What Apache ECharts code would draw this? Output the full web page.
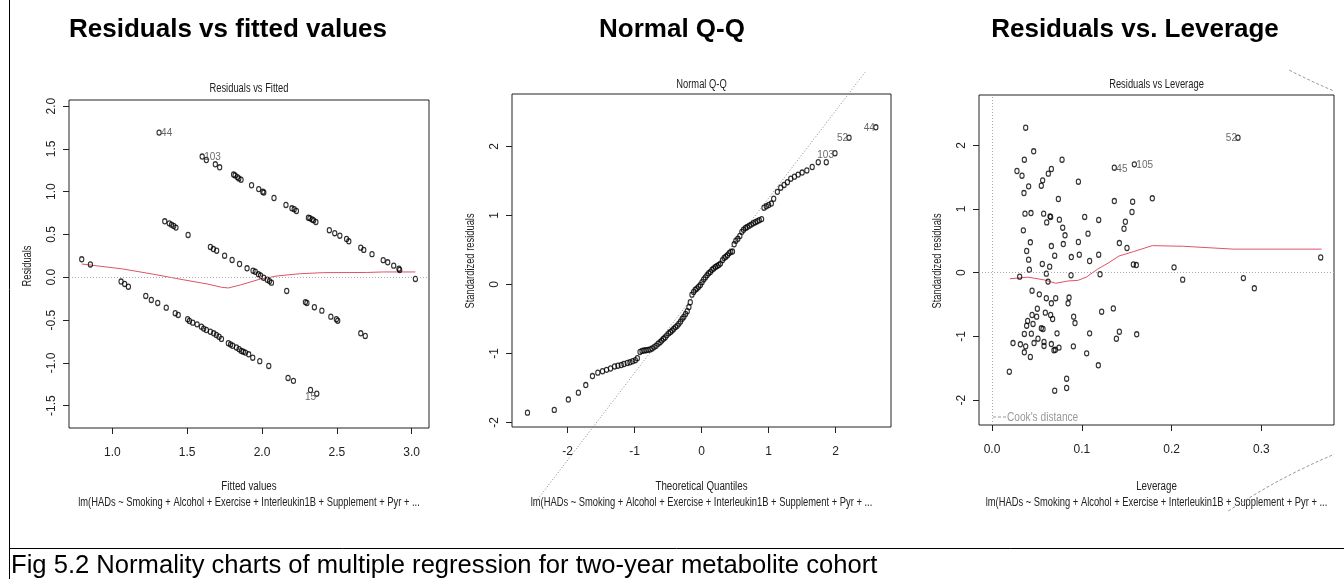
<!DOCTYPE html>
<html><head><meta charset="utf-8">
<script src="https://cdn.jsdelivr.net/npm/echarts@6/dist/echarts.min.js"></script>
<style>html,body{margin:0;padding:0;background:#fff}#c{width:1344px;height:579px}</style>
</head><body><div id="c"></div>
<script>
// ---------- Panel 1: Residuals vs Fitted ----------
const fittedValues = [0.795,0.853,1.312,1.60,1.628,1.688,1.717,1.81,1.82,1.835,1.845,1.86,1.93,1.978,2.005,2.012,2.08,2.16,2.20,2.215,2.23,2.31,2.32,2.335,2.345,2.36,2.45,2.486,2.52,2.565,2.58,2.66,2.68,2.735,2.81,2.84,2.88,2.915,2.92,3.025,
 1.35,1.38,1.395,1.41,1.425,1.506,1.655,1.675,1.697,1.75,1.80,1.85,1.90,1.94,1.955,1.976,1.99,2.011,2.035,2.05,2.063,2.165,2.29,2.30,2.35,2.40,2.46,2.497,2.506,2.66,2.69,
 1.058,1.082,1.107,1.223,1.26,1.303,1.36,1.42,1.44,1.503,1.515,1.537,1.566,1.595,1.61,1.628,1.655,1.677,1.695,1.713,1.729,1.775,1.79,1.804,1.829,1.847,1.862,1.875,1.889,1.911,1.938,1.985,2.045,2.174,2.21,2.324,2.366];
const residuals = [0.21,0.15,1.69,1.41,1.37,1.32,1.285,1.20,1.19,1.17,1.155,1.14,1.075,1.03,1.00,0.99,0.926,0.845,0.806,0.795,0.775,0.696,0.69,0.675,0.665,0.646,0.55,0.515,0.486,0.447,0.42,0.346,0.32,0.27,0.20,0.175,0.136,0.10,0.085,-0.02,
 0.654,0.63,0.615,0.60,0.58,0.494,0.354,0.33,0.31,0.252,0.202,0.155,0.105,0.077,0.065,0.035,0.02,-0.005,-0.03,-0.045,-0.063,-0.16,-0.29,-0.30,-0.35,-0.39,-0.46,-0.49,-0.507,-0.655,-0.686,
 -0.05,-0.078,-0.11,-0.218,-0.265,-0.30,-0.355,-0.42,-0.44,-0.49,-0.51,-0.53,-0.55,-0.577,-0.60,-0.616,-0.636,-0.655,-0.674,-0.694,-0.72,-0.77,-0.785,-0.80,-0.82,-0.84,-0.86,-0.87,-0.88,-0.90,-0.94,-0.98,-1.036,-1.176,-1.21,-1.317,-1.36];
const fittedSmoothX = [0.795,1.07,1.276,1.477,1.633,1.73,1.775,1.855,1.99,2.10,2.257,2.41,2.70,2.81,3.025];
const fittedSmoothY = [0.155,0.097,0.035,-0.03,-0.078,-0.117,-0.125,-0.09,-0.02,0.015,0.042,0.054,0.056,0.062,0.062];
const fittedLabelX = [1.312,1.60,2.324];
const fittedLabelY = [1.69,1.41,-1.317];
const fittedLabelText = ['44','103','15'];
const fittedXTicks = [1.0,1.5,2.0,2.5,3.0];
const fittedYTicks = [-1.5,-1.0,-0.5,0.0,0.5,1.0,1.5,2.0];

// ---------- Panel 2: Normal Q-Q ----------
const theoreticalQ = [-2.60,-2.20,-1.99,-1.84,-1.73,-1.63,-1.55,-1.48,-1.42,-1.36,-1.30,-1.25,-1.20,-1.16,-1.11,-1.07,-1.03,-0.99,-0.96,-0.92,-0.89,-0.86,-0.83,-0.80,-0.77,-0.74,-0.71,-0.68,-0.65,-0.62,-0.595,-0.57,-0.545,-0.52,-0.49,-0.465,-0.44,-0.415,-0.39,-0.365,-0.34,-0.315,-0.29,-0.265,-0.24,-0.215,-0.19,-0.17,-0.145,-0.12,-0.095,-0.07,-0.045,-0.02,0.005,0.03,0.055,0.08,0.105,0.13,0.155,0.18,0.205,0.23,0.255,0.28,0.31,0.335,0.36,0.385,0.41,0.435,0.46,0.485,0.51,0.54,0.57,0.60,0.625,0.655,0.68,0.71,0.74,0.77,0.80,0.83,0.86,0.895,0.93,0.965,1.00,1.04,1.075,1.13,1.18,1.23,1.28,1.33,1.385,1.44,1.50,1.57,1.65,1.74,1.86,1.99,2.20,2.60];
const sampleQ = [-1.86,-1.82,-1.67,-1.57,-1.46,-1.33,-1.28,-1.26,-1.24,-1.22,-1.19,-1.18,-1.17,-1.155,-1.14,-1.13,-1.115,-1.10,-1.07,-0.98,-0.965,-0.96,-0.955,-0.95,-0.945,-0.93,-0.91,-0.89,-0.86,-0.84,-0.815,-0.79,-0.77,-0.74,-0.71,-0.69,-0.67,-0.645,-0.62,-0.60,-0.57,-0.54,-0.50,-0.47,-0.43,-0.39,-0.33,-0.26,-0.15,-0.11,-0.08,-0.06,-0.035,-0.01,0.03,0.07,0.10,0.13,0.16,0.18,0.21,0.23,0.25,0.265,0.28,0.30,0.35,0.38,0.40,0.42,0.45,0.47,0.475,0.58,0.63,0.66,0.70,0.76,0.79,0.815,0.83,0.85,0.865,0.885,0.90,0.915,0.93,0.945,1.11,1.13,1.15,1.17,1.24,1.34,1.40,1.44,1.48,1.53,1.56,1.59,1.62,1.65,1.70,1.77,1.77,1.90,2.125,2.275];
const qqLineX = [-2.50,2.44];
const qqLineY = [-3.181,3.073];
const qqLabelX = [2.60,2.20,1.99];
const qqLabelY = [2.275,2.125,1.90];
const qqLabelText = ['44','52','103'];
const qqTicks = [-2,-1,0,1,2];

// ---------- Panel 3: Residuals vs Leverage ----------
const leverage = [0.0375,0.0464,0.0360,0.0780,0.0278,0.0334,0.0661,0.0627,0.0564,0.0549,0.0408,0.0356,0.0962,0.0739,0.0367,0.0434,0.0575,0.0646,0.0653,0.0609,0.0750,0.1032,0.1188,0.0349,0.0787,0.0813,0.1069,0.0427,0.0661,0.0794,0.0962,0.0386,0.0698,0.0883,0.0972,0.1188,0.0408,0.1087,0.0560,0.0642,0.0416,0.0605,0.1203,0.0308,0.0880,0.0624,0.0446,0.0527,0.0605,0.0661,0.0709,0.0858,0.0847,0.0505,0.0446,0.0397,0.0497,0.0594,0.0653,0.0675,0.0909,0.0924,0.1221,0.0386,0.0457,0.0549,0.0568,0.0360,0.0438,0.0724,0.1087,0.0234,0.0316,0.0375,0.0468,0.0512,0.0579,0.0579,0.0661,0.0690,0.0705,0.0746,0.0906,0.0360,0.0427,0.1054,0.1184,0.0193,0.0831,0.0831,0.0698,
 0.1362,0.1585,0.2739,0.1362,0.1566,0.1785,0.1559,0.1485,0.1470,0.1418,0.1503,0.1574,0.1607,0.2027,0.2123,0.2799,0.2921,0.366,0.1351,0.1418,0.1385,0.1611];
const stdResiduals = [2.277,1.906,1.774,1.774,1.597,1.523,1.628,1.555,1.45,1.366,1.356,1.251,1.429,1.157,0.927,0.937,0.927,0.885,0.875,0.79,0.833,0.875,0.828,0.665,0.707,0.587,0.613,0.477,0.419,0.45,0.482,0.341,0.267,0.246,0.283,0.283,0.205,0.184,0.137,0.095,0.048,-0.015,-0.025,-0.062,-0.04,-0.14,-0.282,-0.34,-0.40,-0.48,-0.40,-0.39,-0.48,-0.565,-0.664,-0.758,-0.69,-0.627,-0.664,-0.727,-0.69,-0.79,-0.612,-0.832,-0.805,-0.873,-0.884,-0.962,-0.957,-0.952,-0.952,-1.104,-1.124,-1.156,-1.104,-1.036,-1.088,-1.15,-1.12,-1.218,-1.21,-1.176,-1.156,-1.25,-1.323,-1.266,-1.454,-1.554,-1.664,-1.81,-1.852,
 1.649,1.701,2.12,1.125,1.115,1.168,0.953,0.80,0.69,0.466,0.388,0.13,0.12,0.084,-0.109,-0.085,-0.245,0.24,-0.56,-0.926,-1.036,-0.967];
const levSmoothX = [0.020,0.040,0.0586,0.0709,0.0846,0.0957,0.105,0.118,0.1292,0.1414,0.1574,0.1785,0.213,0.2687,0.367];
const levSmoothY = [-0.095,-0.07,-0.114,-0.166,-0.13,-0.12,-0.07,0.06,0.15,0.262,0.33,0.425,0.415,0.37,0.37];
const cookUpperX = [0.331,0.34,0.36,0.381];
const cookUpperY = [3.18,3.115,2.98,2.85];
const cookLowerX = [0.263,0.28,0.30,0.32,0.34,0.36,0.381];
const cookLowerY = [-3.74,-3.59,-3.42,-3.26,-3.115,-2.98,-2.85];
const levLabelX = [0.1362,0.1585,0.2739];
const levLabelY = [1.649,1.701,2.12];
const levLabelText = ['45','105','52'];
const levXTicks = [0.0,0.1,0.2,0.3];
const levYTicks = [-2,-1,0,1,2];

// ---------- Text ----------
const panelTitles = ['Residuals vs fitted values','Normal Q-Q','Residuals vs. Leverage'];
const plotTitles = ['Residuals vs Fitted','Normal Q-Q','Residuals vs Leverage'];
const xTitles = ['Fitted values','Theoretical Quantiles','Leverage'];
const yTitles = ['Residuals','Standardized residuals','Standardized residuals'];
const subTitle = 'lm(HADs ~ Smoking + Alcohol + Exercise + Interleukin1B + Supplement + Pyr + ...';
const caption = 'Fig 5.2 Normality charts of multiple regression for two-year metabolite cohort';

const SANS = "'Liberation Sans',Arial,sans-serif";
const SQ = 0.78; // horizontal squeeze of the R plot texts
const zip = (a,b) => a.map((v,i)=>[v,b[i]]);

const grids = [
  {left:69, top:100, width:360, height:328},
  {left:512, top:94, width:379, height:333},
  {left:979, top:95, width:355, height:330}
].map(g => Object.assign(g, {show:true, borderColor:'#222', borderWidth:1, backgroundColor:'rgba(0,0,0,0)'}));

function axX(gi, min, max, ticks, fmt){
  return {type:'value', gridIndex:gi, min, max, scale:true,
    axisLine:{show:false, onZero:false}, splitLine:{show:false},
    axisTick:{show:true, length:6, customValues:ticks, lineStyle:{color:'#222'}},
    axisLabel:{customValues:ticks, formatter:fmt, margin:19, color:'#222', fontSize:12, fontFamily:SANS}};
}
function axY(gi, min, max, ticks, fmt){
  return {type:'value', gridIndex:gi, min, max, scale:true,
    axisLine:{show:false, onZero:false}, splitLine:{show:false},
    axisTick:{show:true, length:6, customValues:ticks, lineStyle:{color:'#222'}},
    axisLabel:{customValues:ticks, formatter:fmt, margin:11, rotate:90, color:'#222', fontSize:12, fontFamily:SANS}};
}
const f1 = v => v.toFixed(1);
const f0 = v => String(Math.round(v));

const pointStyle = {color:'rgba(0,0,0,0)', borderColor:'#000', borderWidth:1.2};
function pts(xi, data){
  return {type:'scatter', xAxisIndex:xi, yAxisIndex:xi, data, symbol:'circle', symbolSize:[4.2,5.1],
    itemStyle:pointStyle, silent:true, z:3};
}
function labels(xi, xs, ys, txt, cfg){
  return {type:'scatter', xAxisIndex:xi, yAxisIndex:xi, symbolSize:0, silent:true, z:4,
    data: xs.map((x,i)=>({value:[x,ys[i]], name:txt[i], label:Object.assign({show:true}, cfg[i])})),
    label:{formatter:p=>p.name, color:'#444', fontSize:10, fontFamily:SANS}};
}
const red = '#DF536B';
function smooth(xi, data){
  return {type:'line', xAxisIndex:xi, yAxisIndex:xi, data, showSymbol:false, symbol:'none', silent:true,
    lineStyle:{color:red, width:1}, z:2};
}
const dotted = {color:'#aaa', width:1, type:[1,2]};

const graphic = [];
const mid = [249, 701.5, 1156.5];
const bigX = [228, 672, 1135];
const titleY = [89, 85, 85];
const yTitleX = [28, 471, 938];
const yMid = [266, 261, 261];
function rText(x, y, text, size, extra){
  return Object.assign({type:'text', x, y, scaleX:SQ, style:{text, font:size+"px "+SANS, fill:'#222', align:'center', verticalAlign:'middle'}}, extra||{});
}
for (let i=0;i<3;i++){
  graphic.push({type:'text', x:bigX[i], y:30, style:{text:panelTitles[i], font:"bold 26px "+SANS, fill:'#000', align:'center', verticalAlign:'middle'}});
  graphic.push(rText(mid[i], titleY[i], plotTitles[i], 12));
  graphic.push(rText(mid[i], 487, xTitles[i], 12.5));
  graphic.push(rText(mid[i], 503, subTitle, 12));
  graphic.push(rText(yTitleX[i], yMid[i], yTitles[i], 12, {rotation:Math.PI/2}));
}
// Cook's distance legend
graphic.push({type:'line', shape:{x1:993, y1:417, x2:1006, y2:417}, style:{stroke:'#999', lineWidth:1, lineDash:[3,2]}});
graphic.push({type:'text', x:1007, y:417, scaleX:SQ, style:{text:"Cook's distance", font:"13px "+SANS, fill:'#999', align:'left', verticalAlign:'middle'}});
// frame
graphic.push({type:'line', shape:{x1:9.5, y1:0, x2:9.5, y2:579}, style:{stroke:'#000', lineWidth:1}});
graphic.push({type:'line', shape:{x1:9, y1:548.5, x2:1344, y2:548.5}, style:{stroke:'#000', lineWidth:1}});
graphic.push({type:'text', x:11, y:566, style:{text:caption, font:"25.6px "+SANS, fill:'#000', align:'left', verticalAlign:'middle'}});

const option = {
  animation:false,
  backgroundColor:'#fff',
  grid:grids,
  xAxis:[axX(0,0.71,3.116,fittedXTicks,f1), axX(1,-2.831,2.826,qqTicks,f0), axX(2,-0.01448,0.3808,levXTicks,f1)],
  yAxis:[axY(0,-1.761,2.071,fittedYTicks,f1), axY(1,-2.068,2.758,qqTicks,f0), axY(2,-2.391,2.790,levYTicks,f0)],
  graphic,
  series:[
    Object.assign(smooth(0, zip(fittedSmoothX, fittedSmoothY)), {markLine:{silent:true, symbol:['none','none'], label:{show:false}, lineStyle:dotted, data:[{yAxis:0}]}}),
    pts(0, zip(fittedValues, residuals)),
    labels(0, fittedLabelX, fittedLabelY, fittedLabelText, [
      {position:'right', distance:2, offset:[0,1]},
      {position:'right', distance:2, offset:[0,1]},
      {position:'bottom', distance:2}
    ]),
    {type:'line', xAxisIndex:1, yAxisIndex:1, data:zip(qqLineX, qqLineY), showSymbol:false, symbol:'none', clip:false, silent:true,
      lineStyle:{color:'#888', width:1, type:[1,2]}, z:1},
    pts(1, zip(theoreticalQ, sampleQ)),
    labels(1, qqLabelX, qqLabelY, qqLabelText, [
      {position:'left', distance:1, offset:[0,1]},
      {position:'left', distance:1, offset:[0,1]},
      {position:'left', distance:1, offset:[0,2]}
    ]),
    Object.assign(smooth(2, zip(levSmoothX, levSmoothY)), {markLine:{silent:true, symbol:['none','none'], label:{show:false}, lineStyle:dotted, data:[{yAxis:0},{xAxis:0}]}}),
    {type:'line', xAxisIndex:2, yAxisIndex:2, data:zip(cookUpperX, cookUpperY), showSymbol:false, symbol:'none', clip:false, silent:true,
      lineStyle:{color:'#999', width:1, type:[3,2]}, z:1},
    {type:'line', xAxisIndex:2, yAxisIndex:2, data:zip(cookLowerX, cookLowerY), showSymbol:false, symbol:'none', clip:false, silent:true,
      lineStyle:{color:'#999', width:1, type:[3,2]}, z:1},
    pts(2, zip(leverage, stdResiduals)),
    labels(2, levLabelX, levLabelY, levLabelText, [
      {position:'right', distance:2, offset:[0,2]},
      {position:'right', distance:2, offset:[0,1]},
      {position:'left', distance:1, offset:[0,1]}
    ])
  ]
};
const chart = echarts.init(document.getElementById('c'), null, {renderer:'canvas'});
chart.setOption(option);
</script></body></html>
